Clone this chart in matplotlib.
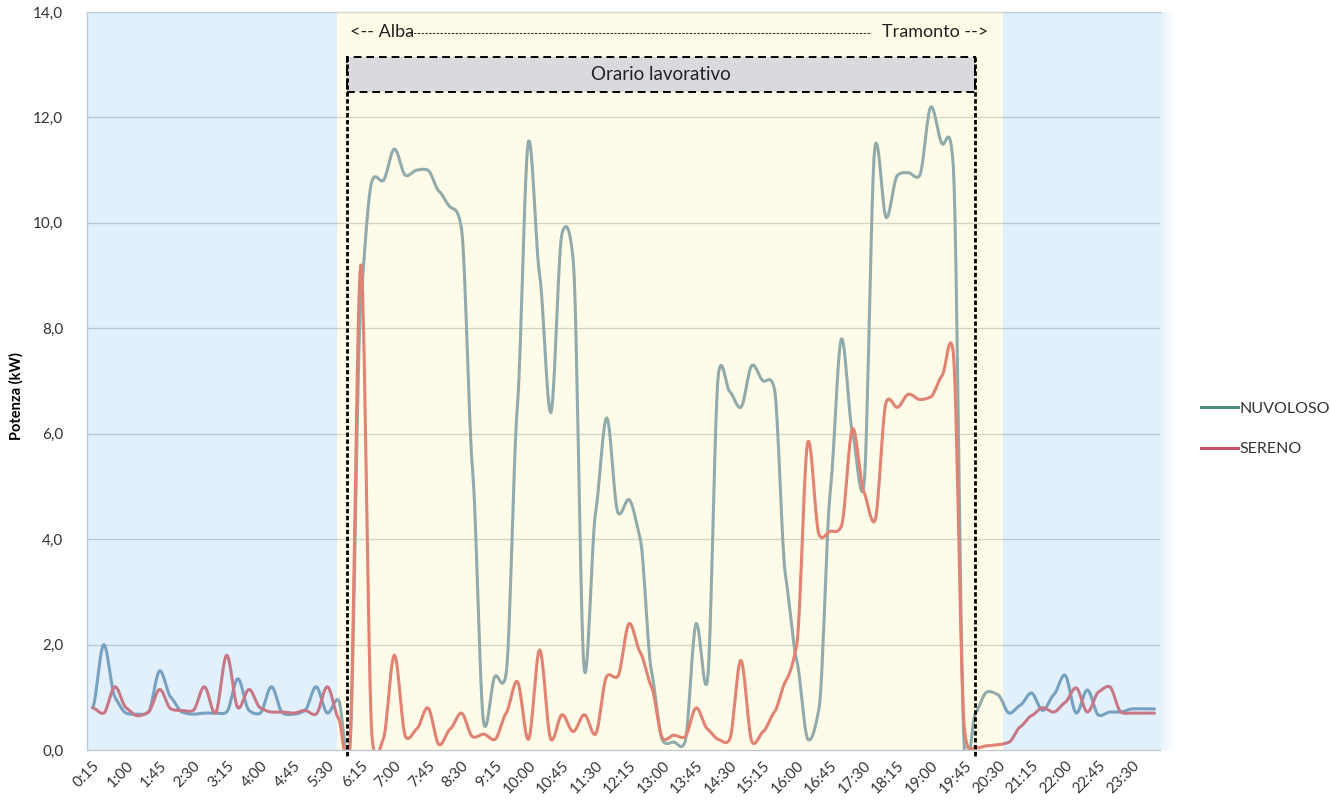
import numpy as np
import matplotlib.pyplot as plt
from matplotlib.patches import Rectangle
from matplotlib.lines import Line2D

plt.rcParams['font.family'] = ['Lato', 'DejaVu Sans']

# categories: quarter hours from 0:15 to 24:00
times = ['%d:%02d' % divmod(15 * (k + 1), 60) for k in range(96)]

nuvoloso = [0.80, 2.00, 1.00, 0.70, 0.68, 0.72, 1.50, 1.00, 0.72, 0.68,
            0.70, 0.70, 0.72, 1.35, 0.75, 0.70, 1.20, 0.70, 0.68, 0.75,
            1.20, 0.70, 0.95, 0.00, 8.50, 10.80, 10.80, 11.40, 10.90, 11.00,
            11.00, 10.60, 10.30, 9.90, 5.30, 0.50, 1.40, 1.45, 6.50, 11.55,
            9.00, 6.40, 9.80, 9.30, 1.50, 4.50, 6.30, 4.50, 4.75, 4.00,
            1.50, 0.18, 0.15, 0.15, 2.40, 1.30, 7.15, 6.80, 6.50, 7.30,
            7.00, 6.85, 3.30, 1.70, 0.20, 0.80, 4.90, 7.80, 6.00, 5.00,
            11.45, 10.10, 10.90, 10.95, 10.90, 12.20, 11.50, 11.10, 0.00, 0.70,
            1.10, 1.05, 0.70, 0.85, 1.08, 0.75, 1.05, 1.42, 0.70, 1.14,
            0.66, 0.72, 0.72, 0.78, 0.78, 0.78]

sereno = [0.80, 0.70, 1.20, 0.80, 0.65, 0.72, 1.15, 0.78, 0.75, 0.75,
          1.20, 0.70, 1.80, 0.80, 1.15, 0.80, 0.72, 0.72, 0.70, 0.75,
          0.68, 1.20, 0.60, 0.00, 9.20, 0.25, 0.20, 1.80, 0.25, 0.40,
          0.80, 0.10, 0.40, 0.70, 0.25, 0.30, 0.20, 0.70, 1.30, 0.20,
          1.90, 0.20, 0.67, 0.35, 0.67, 0.30, 1.40, 1.40, 2.40, 1.85,
          1.20, 0.22, 0.28, 0.25, 0.80, 0.40, 0.20, 0.20, 1.70, 0.15,
          0.35, 0.72, 1.30, 2.00, 5.85, 4.08, 4.15, 4.25, 6.10, 4.90,
          4.35, 6.60, 6.50, 6.75, 6.65, 6.70, 7.10, 7.55, 0.40, 0.05,
          0.08, 0.10, 0.15, 0.44, 0.65, 0.80, 0.72, 0.90, 1.18, 0.72,
          1.10, 1.20, 0.72, 0.70, 0.70, 0.70]


def smooth(y, n=12, k=0.5):
    # smoothed line (cubic hermite, damped tangents)
    y = np.asarray(y, dtype=float)
    p = np.concatenate([[y[0]], y, [y[-1]]])
    m = k * (p[2:] - p[:-2]) / 2
    t = np.linspace(0, 1, n, endpoint=False)
    h00 = 2 * t ** 3 - 3 * t ** 2 + 1
    h10 = t ** 3 - 2 * t ** 2 + t
    h01 = -2 * t ** 3 + 3 * t ** 2
    h11 = t ** 3 - t ** 2
    xs, ys = [], []
    for i in range(len(y) - 1):
        xs.append(i + t)
        ys.append(h00 * y[i] + h10 * m[i] + h01 * y[i + 1] + h11 * m[i + 1])
    xs.append([len(y) - 1])
    ys.append([y[-1]])
    return np.concatenate(xs), np.concatenate(ys)


fig = plt.figure(figsize=(13.3, 8.05), dpi=100)
ax = fig.add_axes([87 / 1330, 1 - 750 / 805, 1073 / 1330, 738 / 805])

x = np.arange(len(times))
ax.set_xlim(-0.5, len(times) - 0.5)
ax.set_ylim(0, 14)

for yv in range(2, 14, 2):
    ax.axhline(yv, color='#bfc3c7', lw=0.9, zorder=1)

xs, ys = smooth(nuvoloso)
ax.plot(xs, ys, color='#5f88a8', lw=2.2, zorder=2, solid_capstyle='round')
xs, ys = smooth(sereno)
ax.plot(xs, ys, color='#d64c52', lw=2.2, zorder=2, solid_capstyle='round')

# night / day bands laid over the lines
day0, day1 = 21.86, 81.43
ax.add_patch(Rectangle((-0.5, 0), day0 + 0.5, 14, color='#a6d4f3', alpha=0.33, lw=0, zorder=3))
ax.add_patch(Rectangle((day0, 0), day1 - day0, 14, color='#fcf6b8', alpha=0.32, lw=0, zorder=3))
ax.add_patch(Rectangle((day1, 0), 95.5 - day1, 14, color='#a6d4f3', alpha=0.33, lw=0, zorder=3))
for k, a in enumerate([0.26, 0.19, 0.12, 0.06]):
    ax.add_patch(Rectangle((95.5 + k * 0.3, 0), 0.3, 14, color='#a6d4f3', alpha=a, lw=0,
                           zorder=3, clip_on=False))

# working hours box
w0, w1 = 22.76, 78.93
ax.add_patch(Rectangle((w0, 12.49), w1 - w0, 0.66, facecolor='#d9d9de', edgecolor='black',
                       lw=1.4, ls=(0, (4, 2.5)), zorder=4))
ax.text((w0 + w1) / 2, 12.82, 'Orario lavorativo', ha='center', va='center', fontsize=13.5,
        color='#222222', zorder=5)
for xv in (w0, w1):
    ax.plot([xv, xv], [13.15, -0.13], color='black', lw=2.0, ls=(0, (1.6, 0.9)),
            zorder=5, clip_on=False)

# sunrise / sunset
ax.text(23.0, 13.63, '<-- Alba', ha='left', va='center', fontsize=13, color='#222222', zorder=5)
ax.text(80.1, 13.63, 'Tramonto -->', ha='right', va='center', fontsize=13, color='#222222', zorder=5)
ax.plot([28.0, 69.6], [13.6, 13.6], color='#333333', lw=0.8, ls=(0, (2.2, 1.2)), zorder=5)

ax.set_xticks(x[::3])
ax.set_xticklabels(times[::3], rotation=45, ha='right', rotation_mode='anchor',
                   fontsize=11, color='#333333')
ax.set_yticks(range(0, 15, 2))
ax.set_yticklabels(['%d,0' % v for v in range(0, 15, 2)], fontsize=11, color='#333333')
ax.tick_params(axis='both', length=0)
ax.tick_params(axis='y', pad=17)
ax.tick_params(axis='x', pad=6)
ax.set_ylabel('Potenza (kW)', fontsize=10.5, fontweight='bold')
ax.yaxis.set_label_coords(-0.059, 0.48)

for s in ['top', 'left', 'bottom']:
    ax.spines[s].set_color('#c3c9cf')
    ax.spines[s].set_linewidth(1.0)
ax.spines['right'].set_visible(False)

handles = [Line2D([], [], color='#4f8c80', lw=2.2), Line2D([], [], color='#c65068', lw=2.2)]
fig.legend(handles, ['NUVOLOSO', 'SERENO'], loc='upper left', bbox_to_anchor=(1195 / 1330, 1 - 395 / 805),
           frameon=False, fontsize=11.5, handlelength=2.3, handletextpad=0.1, labelspacing=1.65,
           labelcolor='#333333', borderaxespad=0)

fig.savefig('out.png', dpi=100, facecolor='white')
